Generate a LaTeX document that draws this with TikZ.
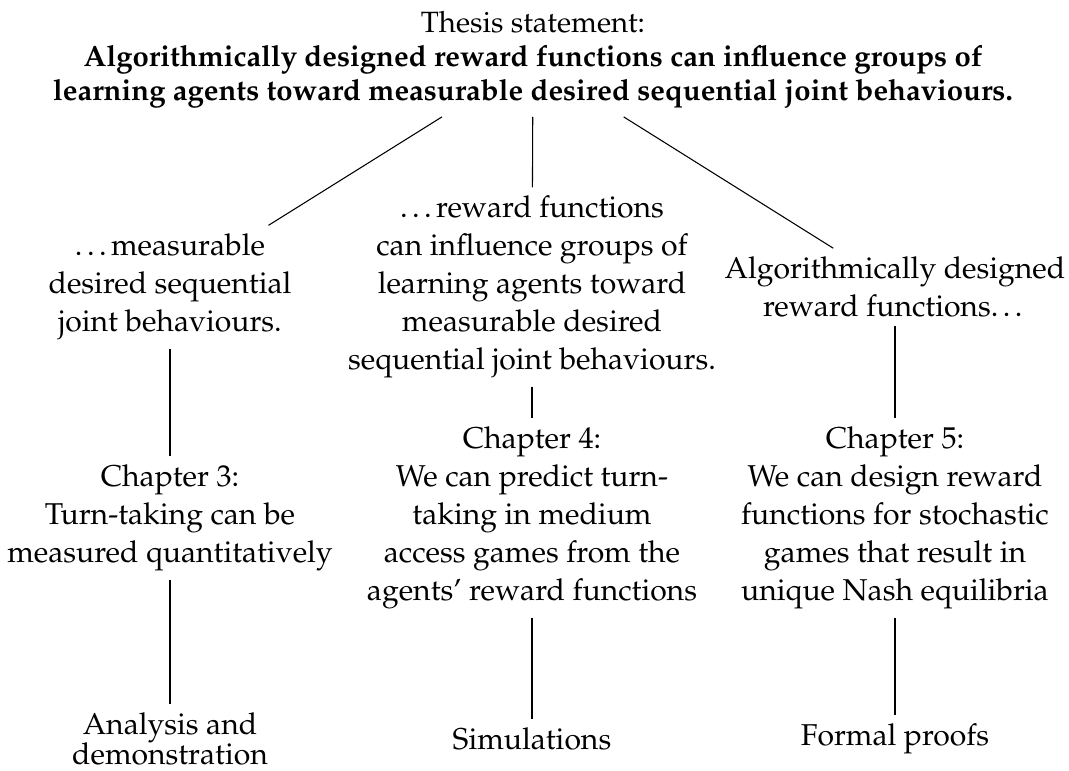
\documentclass[tikz,border=0pt]{standalone}
\usepackage[T1]{fontenc}
\usepackage{mathpazo}
\newcommand\closelines{\lineskiplimit=-10pt\relax}
\begin{document}
\begin{tikzpicture}[x=0.375pt,y=-0.375pt,
  txt/.style={align=center, inner sep=3pt, font=\fontsize{11.3}{14.25}\selectfont},
  headtxt/.style={align=center, inner sep=3pt, font=\fontsize{11}{12.75}\selectfont},
  tight/.style={align=center, inner sep=3pt, font=\fontsize{11.3}{11.25}\selectfont,
    execute at begin node=\closelines},
  link/.style={line width=0.4pt}]
\useasboundingbox (0,0) rectangle (1069,771);

% root: thesis statement
\node[headtxt] (thesis) at (533,60) {Thesis statement:\\
  \textbf{Algorithmically designed reward functions can influence groups of}\\
  \textbf{learning agents toward measurable desired sequential joint behaviours.}};

% first level: parts of the statement
\node[txt] (partA) at (170,287) {\ldots measurable\\desired sequential\\joint behaviours.};
\node[txt] (partB) at (532,287) {\ldots reward functions\\can influence groups of\\learning agents toward\\measurable desired\\sequential joint behaviours.};
\node[txt] (partC) at (895,287) {Algorithmically designed\\reward functions\ldots};

% second level: chapters
\node[txt] (ch3) at (170,518) {Chapter 3:\\Turn-taking can be\\measured quantitatively};
\node[txt] (ch4) at (532,518) {Chapter 4:\\We can predict turn-\\taking in medium\\access games from the\\agents' reward functions};
\node[txt] (ch5) at (895,518) {Chapter 5:\\We can design reward\\functions for stochastic\\games that result in\\unique Nash equilibria};

% third level: methods
\node[tight] (meth3) at (170,739) {Analysis and\\demonstration};
\node[txt] (meth4) at (532,739) {Simulations};
\node[txt] (meth5) at (895,739) {Formal proofs};

\draw[link] (thesis) -- (partA);
\draw[link] (thesis) -- (partB);
\draw[link] (thesis) -- (partC);
\draw[link] (partA) -- (ch3);
\draw[link] (partB) -- (ch4);
\draw[link] (partC) -- (ch5);
\draw[link] (ch3) -- (meth3);
\draw[link] (ch4) -- (meth4);
\draw[link] (ch5) -- (meth5);
\end{tikzpicture}
\end{document}
